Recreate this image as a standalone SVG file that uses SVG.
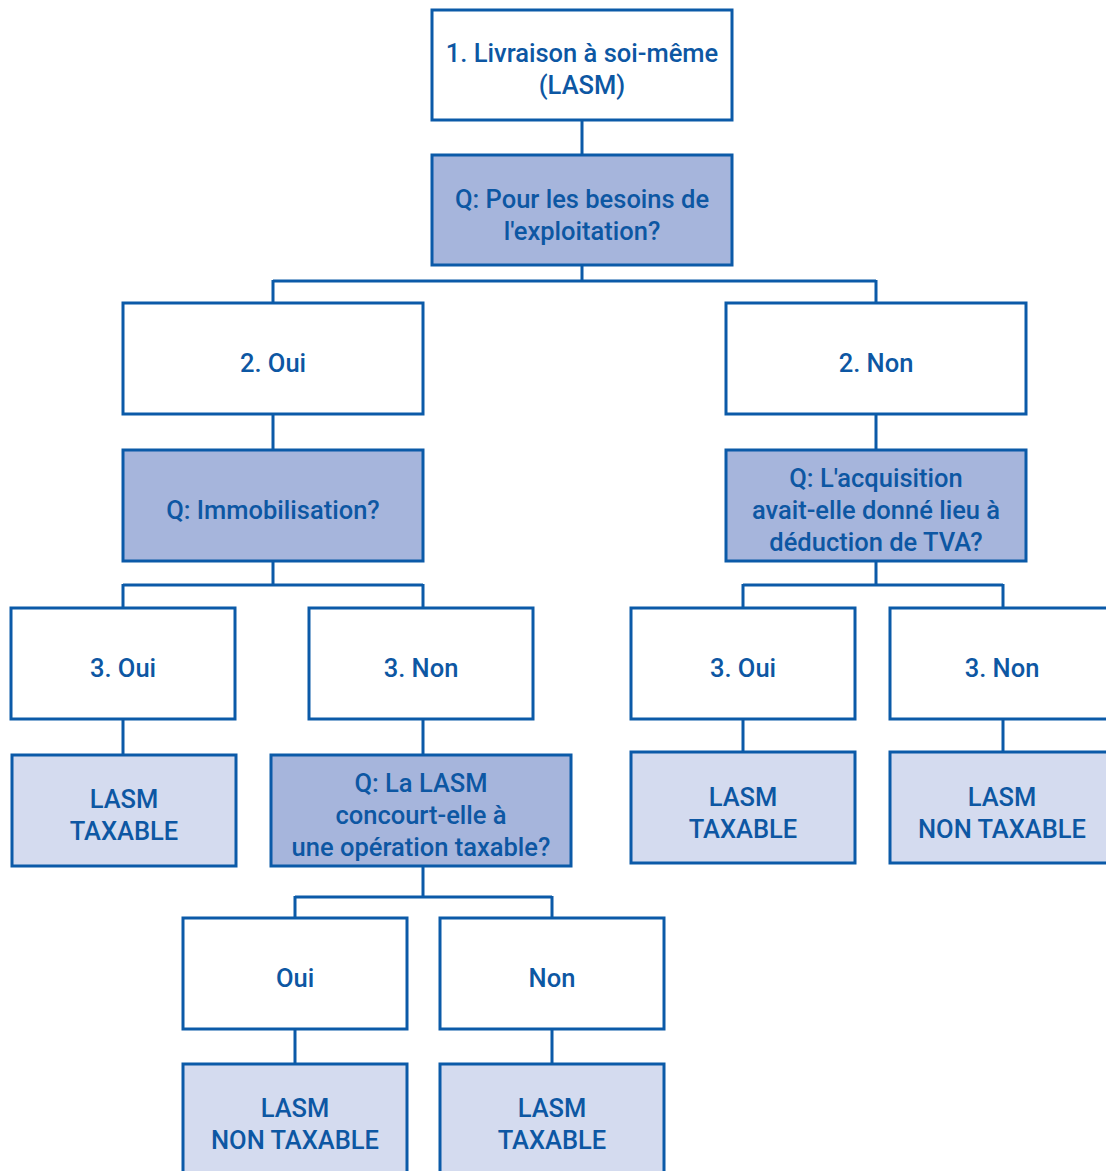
<svg xmlns="http://www.w3.org/2000/svg" width="1106" height="1171" viewBox="0 0 1106 1171">
<style>
.b{stroke:#0b5aa8;stroke-width:3;fill:#ffffff}
.q{fill:#a6b5dc}
.r{fill:#d4dbef}
.t{font-family:Roboto,"Liberation Sans",sans-serif;font-weight:500;font-size:25.5px;fill:#0d57a3;text-anchor:middle}
.c{stroke:#0b5aa8;stroke-width:3;fill:none}
</style>
<rect width="1106" height="1171" fill="#ffffff"/>
<g id="connectors">
<path class="c" d="M582 120V155M582 265V281M273 281H876M273 280V303M876 280V303"/>
<path class="c" d="M273 414V450M876 414V450"/>
<path class="c" d="M273 561V585M123 585H423M123 584V608M423 584V608"/>
<path class="c" d="M876 561V585M743 585H1003M743 584V608M1003 584V608"/>
<path class="c" d="M123 719V755M423 719V755M743 719V752M1003 719V752"/>
<path class="c" d="M423 866V897M295 897H552M295 896V918M552 896V918"/>
<path class="c" d="M295 1029V1064M552 1029V1064"/>
</g>
<g id="n1"><rect class="b" x="432" y="10" width="300" height="110"/><text class="t" x="582" y="62">1. Livraison à soi-même</text><text class="t" x="582" y="94">(LASM)</text></g>
<g id="q1"><rect class="b q" x="432" y="155" width="300" height="110"/><text class="t" x="582" y="208">Q: Pour les besoins de</text><text class="t" x="582" y="240">l'exploitation?</text></g>
<g id="n2oui"><rect class="b" x="123" y="303" width="300" height="111"/><text class="t" x="273" y="372">2. Oui</text></g>
<g id="n2non"><rect class="b" x="726" y="303" width="300" height="111"/><text class="t" x="876" y="372">2. Non</text></g>
<g id="q2"><rect class="b q" x="123" y="450" width="300" height="111"/><text class="t" x="273" y="519">Q: Immobilisation?</text></g>
<g id="q3"><rect class="b q" x="726" y="450" width="300" height="111"/><text class="t" x="876" y="487">Q: L'acquisition</text><text class="t" x="876" y="519">avait-elle donné lieu à</text><text class="t" x="876" y="551">déduction de TVA?</text></g>
<g id="n3oui_l"><rect class="b" x="11" y="608" width="224" height="111"/><text class="t" x="123" y="677">3. Oui</text></g>
<g id="n3non_l"><rect class="b" x="309" y="608" width="224" height="111"/><text class="t" x="421" y="677">3. Non</text></g>
<g id="n3oui_r"><rect class="b" x="631" y="608" width="224" height="111"/><text class="t" x="743" y="677">3. Oui</text></g>
<g id="n3non_r"><rect class="b" x="890" y="608" width="224" height="111"/><text class="t" x="1002" y="677">3. Non</text></g>
<g id="r1"><rect class="b r" x="12" y="755" width="224" height="111"/><text class="t" x="124" y="808">LASM</text><text class="t" x="124" y="840">TAXABLE</text></g>
<g id="q4"><rect class="b q" x="271" y="755" width="300" height="111"/><text class="t" x="421" y="792">Q: La LASM</text><text class="t" x="421" y="824">concourt-elle à</text><text class="t" x="421" y="856">une opération taxable?</text></g>
<g id="r2"><rect class="b r" x="631" y="752" width="224" height="111"/><text class="t" x="743" y="806">LASM</text><text class="t" x="743" y="838">TAXABLE</text></g>
<g id="r3"><rect class="b r" x="890" y="752" width="224" height="111"/><text class="t" x="1002" y="806">LASM</text><text class="t" x="1002" y="838">NON TAXABLE</text></g>
<g id="n4oui"><rect class="b" x="183" y="918" width="224" height="111"/><text class="t" x="295" y="987">Oui</text></g>
<g id="n4non"><rect class="b" x="440" y="918" width="224" height="111"/><text class="t" x="552" y="987">Non</text></g>
<g id="r4"><rect class="b r" x="183" y="1064" width="224" height="111"/><text class="t" x="295" y="1117">LASM</text><text class="t" x="295" y="1149">NON TAXABLE</text></g>
<g id="r5"><rect class="b r" x="440" y="1064" width="224" height="111"/><text class="t" x="552" y="1117">LASM</text><text class="t" x="552" y="1149">TAXABLE</text></g>
</svg>
